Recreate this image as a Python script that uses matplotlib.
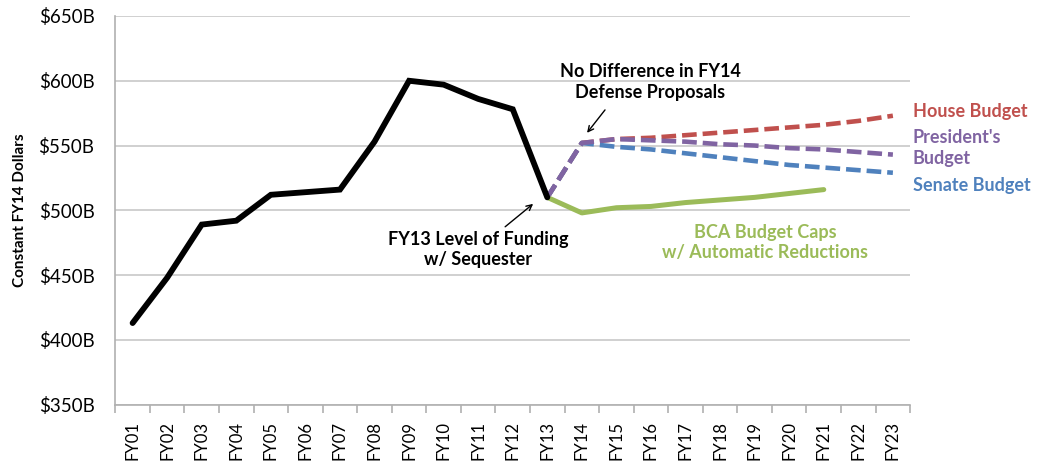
import matplotlib
matplotlib.use("Agg")
import matplotlib.pyplot as plt
import matplotlib.ticker as mticker

plt.rcParams['font.family'] = ['Lato', 'DejaVu Sans']

# Fiscal years on the x axis
years = ["FY01", "FY02", "FY03", "FY04", "FY05", "FY06", "FY07", "FY08",
         "FY09", "FY10", "FY11", "FY12", "FY13", "FY14", "FY15", "FY16",
         "FY17", "FY18", "FY19", "FY20", "FY21", "FY22", "FY23"]

# Actual funding FY01-FY13 ($B, constant FY14 dollars)
actual = [413, 448, 489, 492, 512, 514, 516, 553, 600, 597, 586, 578, 510]

# Proposals FY13-FY23
proposal_years = years[12:]
house = [510, 552, 555, 556, 558, 560, 562, 564, 566, 569, 573]
president = [510, 552, 555, 554, 553, 551, 550, 548, 547, 545, 543]
senate = [510, 552, 549, 547, 544, 541, 538, 535, 533, 531, 529]

# BCA caps FY13-FY21
bca_years = years[12:21]
bca = [510, 498, 502, 503, 506, 508, 510, 513, 516]

red = "#C0504D"
purple = "#8064A2"
blue = "#4F81BD"
green = "#9BBB59"

fig = plt.figure(figsize=(10.39, 4.70), dpi=100)
ax = fig.add_axes([0.111, 0.139, 0.765, 0.827])

pos = {y: i for i, y in enumerate(years)}
xa = [pos[y] for y in years[:len(actual)]]
xp = [pos[y] for y in proposal_years]
xb = [pos[y] for y in bca_years]

dash = (0, (3.2, 1.3))
ax.plot(xp, house, color=red, lw=3.3, ls=dash, zorder=3)
ax.plot(xp, senate, color=blue, lw=3.3, ls=dash, zorder=3)
ax.plot(xp, president, color=purple, lw=3.3, ls=dash, zorder=4)
ax.plot(xb, bca, color=green, lw=3.6, zorder=3, solid_capstyle='round')
ax.plot(xa, actual, color="black", lw=4.2, zorder=5, solid_capstyle='round',
        solid_joinstyle='miter')

ax.set_xlim(-0.5, len(years) - 0.5)
ax.set_ylim(350, 650)
ax.yaxis.set_major_locator(mticker.MultipleLocator(50))
ax.yaxis.set_major_formatter(mticker.FuncFormatter(lambda v, _: f"${int(v)}B"))
ax.grid(axis='y', color="#C8C8C8", lw=1.2)
ax.set_axisbelow(True)

ax.set_xticks(range(len(years)))
ax.set_xticklabels(years, rotation=90, fontsize=12)
ax.set_xticks([i - 0.5 for i in range(len(years) + 1)], minor=True)
ax.tick_params(axis='x', which='major', length=0, pad=12)
ax.tick_params(axis='x', which='minor', length=6, color="#B0B0B0", width=1.2)
ax.tick_params(axis='y', length=0, labelsize=13.5, pad=15)

for s in ["top", "right"]:
    ax.spines[s].set_visible(False)
for s in ["left", "bottom"]:
    ax.spines[s].set_color("#B0B0B0")
    ax.spines[s].set_linewidth(1.2)

ax.set_ylabel("Constant FY14 Dollars", fontsize=11, fontweight='bold', labelpad=8)

# Annotations
ax.text(14.97, 599, "No Difference in FY14\nDefense Proposals", ha='center',
        va='center', fontsize=13, fontweight='bold', linespacing=1.3)
ax.annotate("", xy=(13.15, 559.8), xytext=(13.67, 577.5),
            arrowprops=dict(arrowstyle="->", color="black", lw=1,
                            shrinkA=0, shrinkB=0))
ax.text(10.0, 469.6, "FY13 Level of Funding\nw/ Sequester", ha='center',
        va='center', fontsize=13, fontweight='bold', linespacing=1.25)
ax.annotate("", xy=(11.59, 505), xytext=(10.78, 487.3),
            arrowprops=dict(arrowstyle="->", color="black", lw=1,
                            shrinkA=0, shrinkB=0))
ax.text(18.3, 475, "BCA Budget Caps\nw/ Automatic Reductions",
        ha='center', va='center', fontsize=13, fontweight='bold', color=green,
        linespacing=1.25)

ax.text(1.003, 576, "House Budget", transform=ax.get_yaxis_transform(),
        fontsize=13, fontweight='bold', color=red, va='center')
ax.text(1.003, 548, "President's\nBudget", transform=ax.get_yaxis_transform(),
        fontsize=13, fontweight='bold', color=purple, va='center',
        linespacing=1.3)
ax.text(1.003, 519, "Senate Budget", transform=ax.get_yaxis_transform(),
        fontsize=13, fontweight='bold', color=blue, va='center')

fig.savefig("out.png", dpi=100)
